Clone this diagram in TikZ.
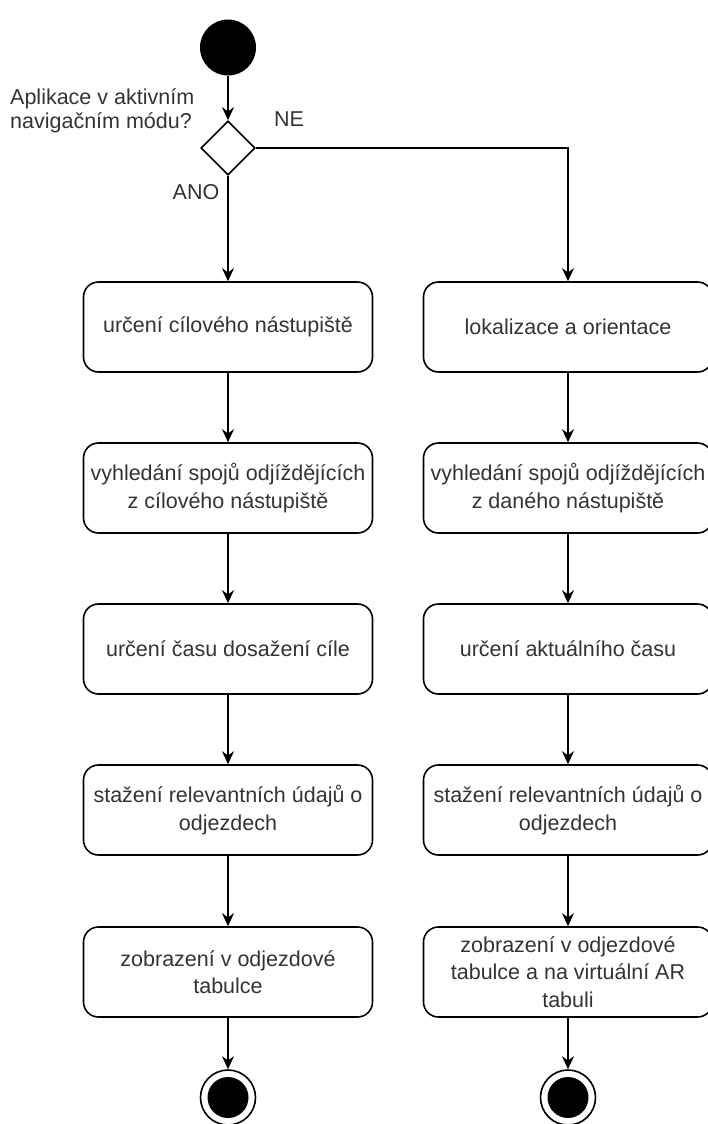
\documentclass[tikz,border=0pt]{standalone}
\usepackage{fontspec}
\setmainfont{Liberation Sans}
\usetikzlibrary{shapes.geometric,arrows.meta}

\begin{document}
\begin{tikzpicture}[
	x=1pt, y=-1pt,
	initial/.style={circle, fill=black, minimum size=56pt, inner sep=0pt},
	final/.style={circle, draw, line width=1.6pt, minimum size=55pt, inner sep=0pt,
		path picture={\fill[black] (path picture bounding box.center) circle (20.5pt);}},
	decision/.style={diamond, draw, line width=1.6pt, minimum width=54pt, minimum height=54pt, inner sep=0pt},
	activity/.style={draw, rectangle, rounded corners=15pt, line width=1.6pt, minimum width=289pt, minimum height=90pt, inner sep=2pt, align=center, text=black!80, font=\fontsize{21.5}{27.5}\selectfont},
	lbl/.style={text=black!80, font=\fontsize{21.5}{24}\selectfont, inner sep=0pt},
	]
	
	\useasboundingbox (0,0) rectangle (707,1124);
	
	%-----------------------
	% Columns and heights
	%-----------------------
	\def\xl{228}
	\def\xr{568}
	\def\hstart{47.5}
	\def\hdec{148}
	\def\hone{327}
	\def\htwo{488}
	\def\hthree{649}
	\def\hfour{810}
	\def\hfive{972}
	\def\hend{1097.5}
	
	%-----------------------
	% Start and decision
	%-----------------------
	\node[initial] (start) at (\xl,\hstart) {};
	\node[decision] (dec) at (\xl,\hdec) {};
	\node[lbl, anchor=west, align=left] (question) at (10,111) {Aplikace v aktivním\\navigačním módu?};
	\node[lbl] (ano) at (196,192) {ANO};
	\node[lbl] (ne) at (289,119) {NE};
	
	%-----------------------
	% Left column: navigation mode
	%-----------------------
	\node[activity] (L1) at (\xl,\hone) {určení cílového nástupiště};
	\node[activity] (L2) at (\xl,\htwo) {vyhledání spojů odjíždějících\\z cílového nástupiště};
	\node[activity] (L3) at (\xl,\hthree) {určení času dosažení cíle};
	\node[activity] (L4) at (\xl,\hfour) {stažení relevantních údajů o\\odjezdech};
	\node[activity] (L5) at (\xl,\hfive) {zobrazení v odjezdové\\tabulce};
	\node[final] (endL) at (\xl,\hend) {};
	
	%-----------------------
	% Right column: no navigation
	%-----------------------
	\node[activity] (R1) at (\xr,\hone) {lokalizace a orientace};
	\node[activity] (R2) at (\xr,\htwo) {vyhledání spojů odjíždějících\\z daného nástupiště};
	\node[activity] (R3) at (\xr,\hthree) {určení aktuálního času};
	\node[activity] (R4) at (\xr,\hfour) {stažení relevantních údajů o\\odjezdech};
	\node[activity] (R5) at (\xr,\hfive) {zobrazení v odjezdové\\tabulce a na virtuální AR\\tabuli};
	\node[final] (endR) at (\xr,\hend) {};
	
	%-----------------------
	% Connections
	%-----------------------
	\tikzset{connect/.style={-{Stealth[length=13pt,width=12pt]}, line width=1.6pt}}
	
	% start -> decision
	\draw[connect] (start.south) -- (dec.north);
	
	% decision -> both branches
	\draw[connect] (dec.south) -- (L1.north);
	\draw[connect] (dec.east) -| (R1.north);
	
	% left column
	\draw[connect] (L1.south) -- (L2.north);
	\draw[connect] (L2.south) -- (L3.north);
	\draw[connect] (L3.south) -- (L4.north);
	\draw[connect] (L4.south) -- (L5.north);
	\draw[connect] (L5.south) -- (endL.north);
	
	% right column
	\draw[connect] (R1.south) -- (R2.north);
	\draw[connect] (R2.south) -- (R3.north);
	\draw[connect] (R3.south) -- (R4.north);
	\draw[connect] (R4.south) -- (R5.north);
	\draw[connect] (R5.south) -- (endR.north);
	
\end{tikzpicture}
\end{document}
